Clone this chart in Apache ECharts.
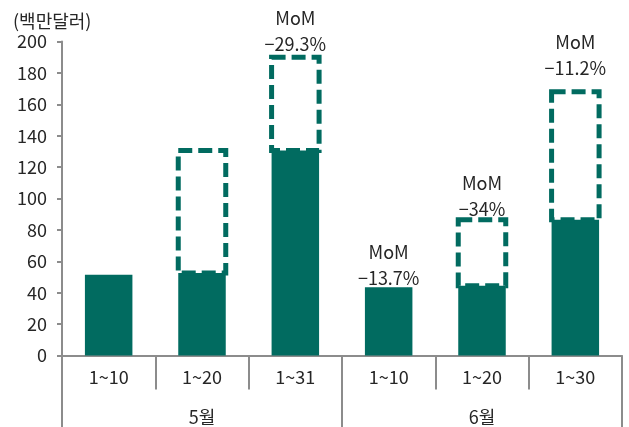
<!DOCTYPE html>
<html>
<head>
<meta charset="utf-8">
<script src="https://cdn.jsdelivr.net/npm/echarts@6/dist/echarts.min.js"></script>
<style>
html,body{margin:0;padding:0;background:#fff;}
#c{width:629px;height:427px;}
</style>
</head>
<body>
<div id="c"></div>
<script>
// ---- data ----
var categories = ['1~10', '1~20', '1~31', '1~10', '1~20', '1~30'];
var months = ['5월', '6월'];
var actualValues = [51.5, 52.5, 130.5, 43.5, 44.5, 86.5];      // solid bars
var dashedTopValues = [null, 130.5, 190, null, 86.5, 168];      // top of dashed boxes
var momLabels = [null, null, '−29.3%', '−13.7%', '−34%', '−11.2%'];
var yTicks = { min: 0, max: 200, interval: 20 };
var unitLabel = '(백만달러)';

// ---- style ----
var GREEN = '#016b60';
var TEXT = '#262626';
var AXIS = '#8c8c8c';
var FONT = 'Noto Sans CJK KR';
var BAR_W = 47.5;
var labelExtraLift = [0, 0, 0, 0, -2, 11];

var chart = echarts.init(document.getElementById('c'), null, { renderer: 'canvas' });

function renderOverlay(params, api) {
  var i = api.value(0);
  var base = api.value(1);
  var top = api.value(2);
  var hasBox = !isNaN(top) && top !== null;
  var pBase = api.coord([i, base]);
  var children = [];
  var topPx = pBase[1];
  if (hasBox) {
    var pTop = api.coord([i, top]);
    topPx = pTop[1];
    children.push({
      type: 'rect',
      shape: { x: pBase[0] - BAR_W / 2, y: pTop[1], width: BAR_W, height: pBase[1] - pTop[1] },
      style: { fill: 'none', stroke: GREEN, lineWidth: 5, lineDash: [14, 6] }
    });
  }
  var lbl = momLabels[i];
  if (lbl) {
    var pctY = topPx - (hasBox ? 13 : 9) - labelExtraLift[i];
    children.push({
      type: 'text',
      style: {
        text: lbl, x: pBase[0], y: pctY,
        align: 'center', verticalAlign: 'middle',
        fontSize: 18, fill: TEXT, fontFamily: FONT
      }
    });
    children.push({
      type: 'text',
      style: {
        text: 'MoM', x: pBase[0], y: pctY - 26,
        align: 'center', verticalAlign: 'middle',
        fontSize: 18, fill: TEXT, fontFamily: FONT
      }
    });
  }
  return { type: 'group', children: children };
}

var overlayData = categories.map(function (c, i) {
  return [i, actualValues[i], dashedTopValues[i] == null ? NaN : dashedTopValues[i]];
});

chart.setOption({
  animation: false,
  textStyle: { fontFamily: FONT },
  grid: { left: 62, right: 7, top: 41.5, bottom: 71.5 },
  graphic: [{
    type: 'text',
    left: 13, top: 12,
    style: { text: unitLabel, fontSize: 18, fill: TEXT, fontFamily: FONT }
  }],
  xAxis: [{
    type: 'category',
    data: categories,
    axisLine: { lineStyle: { color: AXIS, width: 2 } },
    axisTick: { show: true, length: 34, interval: 0, lineStyle: { color: AXIS, width: 2 } },
    axisLabel: { color: TEXT, fontSize: 18, margin: 13, fontFamily: FONT, interval: 0 }
  }, {
    type: 'category',
    position: 'bottom',
    data: months,
    axisLine: { show: false },
    axisTick: { show: true, length: 72, interval: 0, lineStyle: { color: AXIS, width: 2 } },
    axisLabel: { color: TEXT, fontSize: 18, margin: 53, fontFamily: FONT }
  }],
  yAxis: {
    type: 'value',
    min: yTicks.min, max: yTicks.max, interval: yTicks.interval,
    axisLine: { show: true, lineStyle: { color: AXIS, width: 2 } },
    axisTick: { show: true, length: 5, lineStyle: { color: AXIS, width: 2 } },
    splitLine: { show: false },
    axisLabel: { color: TEXT, fontSize: 18, margin: 15, fontFamily: FONT }
  },
  series: [{
    type: 'bar',
    barWidth: BAR_W,
    data: actualValues,
    itemStyle: { color: GREEN },
    z: 2
  }, {
    type: 'custom',
    renderItem: renderOverlay,
    data: overlayData,
    encode: { x: 0, y: [1, 2] },
    clip: false,
    z: 3
  }]
});
</script>
</body>
</html>
